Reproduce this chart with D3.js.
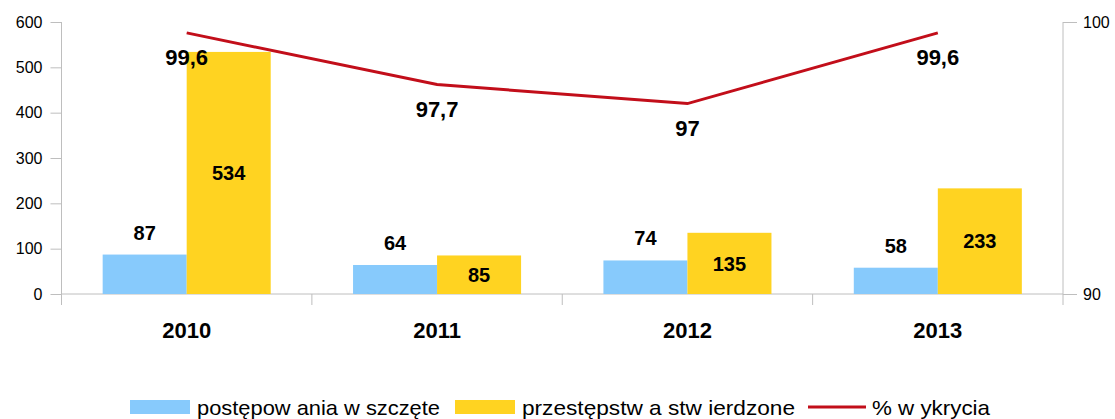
<!DOCTYPE html>
<html>
<head>
<meta charset="utf-8">
<script src="https://cdn.jsdelivr.net/npm/d3@7"></script>
<style>
  body { margin: 0; background: #fff; }
  svg { display: block; font-family: 'Liberation Sans', Arial, sans-serif; }
</style>
</head>
<body>
<div id="chart"></div>
<script>
const years = ['2010', '2011', '2012', '2013'];
const wszczete = [87, 64, 74, 58];
const stwierdzone = [534, 85, 135, 233];
const wykrycie = [99.6, 97.7, 97, 99.6];
const leftTicks = [0, 100, 200, 300, 400, 500, 600];
const rightTicks = [90, 100];
const seriesNames = ['postępow ania w szczęte', 'przestępstw a stw ierdzone', '% w ykrycia'];

const Blue = '#87CAFC';
const Yellow = '#FFD321';
const Red = '#C20E1A';
const AxisGray = '#BEBEBE';

const width = 1115;
const height = 419;
const margin = { top: 22, bottom: 125, left: 61.5, right: 52 };

const data = years.map((y, i) => ({
  year: y,
  a: wszczete[i],
  b: stwierdzone[i],
  p: wykrycie[i],
}));

const svg = d3
  .select('#chart')
  .append('svg')
  .attr('width', width)
  .attr('height', height);

const innerW = width - margin.left - margin.right;
const innerH = height - margin.top - margin.bottom;

const container = svg
  .append('g')
  .attr('transform', `translate(${margin.left}, ${margin.top})`);

const x0 = d3.scaleBand().domain(years).range([0, innerW]).padding(0);
const x1 = d3
  .scaleBand()
  .domain(['a', 'b'])
  .range([0, x0.bandwidth()])
  .paddingInner(0)
  .paddingOuter(0.49);

const yLeft = d3.scaleLinear().domain([0, 600]).range([innerH, 0]);
const yRight = d3.scaleLinear().domain([90, 100]).range([innerH, 0]);

// axes
const leftAxis = container
  .append('g')
  .call(d3.axisLeft(yLeft).tickValues(leftTicks).tickSize(11).tickPadding(8));
const rightAxis = container
  .append('g')
  .attr('transform', `translate(${innerW},0)`)
  .call(d3.axisRight(yRight).tickValues(rightTicks).tickSize(14).tickPadding(6));

[leftAxis, rightAxis].forEach((ax) => {
  ax.select('.domain').remove();
  ax.selectAll('line').attr('stroke', AxisGray);
  ax.selectAll('text')
    .style('font-size', '16px')
    .style('font-family', "'Liberation Sans', Arial, sans-serif")
    .attr('fill', '#000');
});

container
  .append('line')
  .attr('x1', 0).attr('x2', 0)
  .attr('y1', 0).attr('y2', innerH)
  .attr('stroke', AxisGray);
container
  .append('line')
  .attr('x1', innerW).attr('x2', innerW)
  .attr('y1', 0).attr('y2', innerH)
  .attr('stroke', AxisGray);

// x axis baseline with boundary ticks
const xAxis = container
  .append('g')
  .attr('transform', `translate(0,${innerH})`);
xAxis
  .append('line')
  .attr('x1', 0).attr('x2', innerW)
  .attr('stroke', AxisGray);
xAxis
  .selectAll('.bt')
  .data(d3.range(years.length + 1))
  .join('line')
  .attr('x1', (i) => i * x0.step())
  .attr('x2', (i) => i * x0.step())
  .attr('y1', 0).attr('y2', 11)
  .attr('stroke', AxisGray);
xAxis
  .selectAll('.yl')
  .data(years)
  .join('text')
  .attr('x', (d) => x0(d) + x0.bandwidth() / 2)
  .attr('y', 44)
  .attr('text-anchor', 'middle')
  .style('font-size', '22px')
  .style('font-weight', 700)
  .text((d) => d);

// bars
const groups = container
  .selectAll('.grp')
  .data(data)
  .join('g')
  .attr('transform', (d) => `translate(${x0(d.year)},0)`);

groups
  .append('rect')
  .attr('x', x1('a'))
  .attr('width', x1.bandwidth())
  .attr('y', (d) => yLeft(d.a))
  .attr('height', (d) => innerH - yLeft(d.a))
  .attr('fill', Blue);

groups
  .append('rect')
  .attr('x', x1('b'))
  .attr('width', x1.bandwidth())
  .attr('y', (d) => yLeft(d.b))
  .attr('height', (d) => innerH - yLeft(d.b))
  .attr('fill', Yellow);

groups
  .append('text')
  .attr('x', x1('a') + x1.bandwidth() / 2)
  .attr('y', (d) => yLeft(d.a) - 15)
  .attr('text-anchor', 'middle')
  .style('font-size', '20px')
  .style('font-weight', 700)
  .text((d) => d.a);

groups
  .append('text')
  .attr('x', x1('b') + x1.bandwidth() / 2)
  .attr('y', (d) => (yLeft(d.b) + innerH) / 2)
  .attr('dy', '0.36em')
  .attr('text-anchor', 'middle')
  .style('font-size', '20px')
  .style('font-weight', 700)
  .text((d) => d.b);

// line
const line = d3
  .line()
  .x((d) => x0(d.year) + x0.bandwidth() / 2)
  .y((d) => yRight(d.p));

container
  .append('path')
  .datum(data)
  .attr('d', line)
  .attr('fill', 'none')
  .attr('stroke', Red)
  .attr('stroke-width', 3);

container
  .selectAll('.pl')
  .data(data)
  .join('text')
  .attr('x', (d) => x0(d.year) + x0.bandwidth() / 2)
  .attr('y', (d) => yRight(d.p) + 32)
  .attr('text-anchor', 'middle')
  .style('font-size', '22px')
  .style('font-weight', 700)
  .text((d) => String(d.p).replace('.', ','));

// legend
const legend = svg.append('g').attr('transform', 'translate(0,407)');
const legendItems = [
  { x: 130, type: 'rect', color: Blue, name: seriesNames[0], w: 243 },
  { x: 455, type: 'rect', color: Yellow, name: seriesNames[1], w: 273 },
  { x: 808, type: 'line', color: Red, name: seriesNames[2], w: 118 },
];
legendItems.forEach((it) => {
  if (it.type === 'rect') {
    legend
      .append('rect')
      .attr('x', it.x).attr('y', -7)
      .attr('width', 60).attr('height', 14)
      .attr('fill', it.color);
  } else {
    legend
      .append('line')
      .attr('x1', it.x).attr('x2', it.x + 58)
      .attr('y1', 0).attr('y2', 0)
      .attr('stroke', it.color)
      .attr('stroke-width', 3);
  }
  legend
    .append('text')
    .attr('x', it.x + (it.type === 'rect' ? 67 : 64))
    .attr('y', 0)
    .attr('dy', '0.36em')
    .attr('textLength', it.w)
    .attr('lengthAdjust', 'spacingAndGlyphs')
    .style('font-size', '21px')
    .text(it.name);
});
</script>
</body>
</html>
